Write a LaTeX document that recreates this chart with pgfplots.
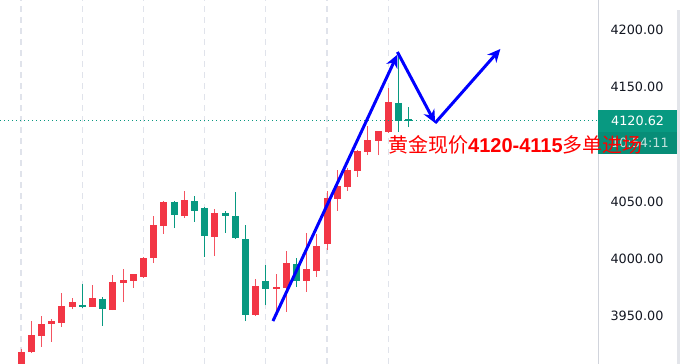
\documentclass[border=0pt]{standalone}
\usepackage{pgfplots}
\pgfplotsset{compat=1.18}
\usetikzlibrary{arrows.meta}
\usepackage{fontspec}
\setmainfont{DejaVu Sans}
\newfontfamily\lib{Liberation Sans}
\newfontfamily\cjk{Noto Sans CJK SC}
\definecolor{tvred}{HTML}{F23645}
\definecolor{tvgreen}{HTML}{089981}
\definecolor{gridc}{HTML}{E0E3EB}
\definecolor{axc}{HTML}{D1D4DC}
\definecolor{txt}{HTML}{131722}
\begin{document}
\begin{tikzpicture}
\begin{axis}[name=main,
  scale only axis, width=598pt, height=364pt,
  xmin=-2.06, xmax=56.57, ymin=3908.04, ymax=4226.22,
  clip mode=individual,
  axis x line*=bottom, x axis line style={draw=none},
  axis y line*=right, y axis line style={draw=axc, line width=1pt},
  xtick={0,6,...,36}, xticklabels={},
  xmajorgrids, grid style={draw=gridc, line width=1.3pt, dash pattern=on 6pt off 5pt},
  ytick={3950,4000,4050,4150,4200},
  major tick length=0pt,
  /pgf/number format/assume math mode=true,
  yticklabel={\pgfmathprintnumber[fixed,fixed zerofill,precision=2,1000 sep={}]{\tick}},
  yticklabel style={font=\fontsize{12.8}{14}\selectfont, text=txt, anchor=west, xshift=9pt},
  unbounded coords=jump,
]
% red wicks
\addplot[tvred!85, line width=1pt] coordinates {
(0,3900) (0,3921.2) (0,nan)
(1,3917.7) (1,3945.6) (1,nan)
(2,3922.9) (2,3950.0) (2,nan)
(3,3927.3) (3,3947.4) (3,nan)
(4,3940.4) (4,3970.1) (4,nan)
(5,3956.1) (5,3965.7) (5,nan)
(7,3957.9) (7,3977.1) (7,nan)
(9,3955.2) (9,3985.8) (9,nan)
(10,3962.2) (10,3991.1) (10,nan)
(11,3974.5) (11,3986.7) (11,nan)
(12,3983.0) (12,4001.5) (12,nan)
(13,3996.3) (13,4037.4) (13,nan)
(14,4021.7) (14,4050.5) (14,nan)
(16,4035.7) (16,4059.3) (16,nan)
(19,4002.4) (19,4043.5) (19,nan)
(23,3950.0) (23,3982.3) (23,nan)
(25,3952.6) (25,3986.7) (25,nan)
(26,3953.5) (26,4006.8) (26,nan)
(28,3971.0) (28,4022.6) (28,nan)
(29,3984.1) (29,4021.7) (29,nan)
(30,4007.7) (30,4059.3) (30,nan)
(31,4041.8) (31,4077.6) (31,nan)
(32,4059.3) (32,4079.4) (32,nan)
(33,4071.5) (33,4095.1) (33,nan)
(34,4090.7) (34,4116.1) (34,nan)
(35,4090.7) (35,4111.7) (35,nan)
(36,4110.0) (36,4149.3) (36,nan)
};
% red bodies
\addplot[tvred, line width=7pt, line cap=butt] coordinates {
(0,3904.5) (0,3918.5) (0,nan)
(1,3918.5) (1,3933.4) (1,nan)
(2,3932.5) (2,3943.0) (2,nan)
(3,3943.0) (3,3945.6) (3,nan)
(4,3943.9) (4,3958.7) (4,nan)
(5,3957.9) (5,3962.2) (5,nan)
(7,3957.9) (7,3965.7) (7,nan)
(9,3955.2) (9,3979.7) (9,nan)
(10,3978.8) (10,3981.5) (10,nan)
(11,3980.6) (11,3986.7) (11,nan)
(12,3984.1) (12,4000.7) (12,nan)
(13,4000.7) (13,4029.5) (13,nan)
(14,4028.7) (14,4049.7) (14,nan)
(16,4037.4) (16,4051.4) (16,nan)
(19,4019.1) (19,4040.0) (19,nan)
(23,3950.9) (23,3976.2) (23,nan)
(25,3973.6) (25,3975.6) (25,nan)
(26,3974.5) (26,3996.3) (26,nan)
(28,3980.6) (28,3991.1) (28,nan)
(29,3989.3) (29,4011.2) (29,nan)
(30,4012.9) (30,4053.1) (30,nan)
(31,4052.3) (31,4063.6) (31,nan)
(32,4062.8) (32,4077.6) (32,nan)
(33,4076.7) (33,4094.2) (33,nan)
(34,4093.4) (34,4103.8) (34,nan)
(35,4103.0) (35,4111.7) (35,nan)
(36,4110.8) (36,4137.1) (36,nan)
};
% green wicks
\addplot[tvgreen, line width=1pt] coordinates {
(6,3957.0) (6,3978.0) (6,nan)
(8,3941.3) (8,3966.6) (8,nan)
(15,4026.9) (15,4050.5) (15,nan)
(17,4032.2) (17,4054.9) (17,nan)
(18,4001.6) (18,4045.0) (18,nan)
(20,4022.6) (20,4041.8) (20,nan)
(21,4017.5) (21,4058.4) (21,nan)
(22,3945.6) (22,4029.5) (22,nan)
(24,3959.6) (24,3994.6) (24,nan)
(27,3975.3) (27,4000.7) (27,nan)
(37,4110.8) (37,4178.1) (37,nan)
(38,4115.2) (38,4132.7) (38,nan)
};
% green bodies
\addplot[tvgreen, line width=7pt, line cap=butt] coordinates {
(6,3959.6) (6,3957.9) (6,nan)
(8,3964.9) (8,3956.1) (8,nan)
(15,4049.7) (15,4038.3) (15,nan)
(17,4050.5) (17,4041.8) (17,nan)
(18,4044.4) (18,4019.9) (18,nan)
(20,4040.0) (20,4037.4) (20,nan)
(21,4037.4) (21,4018.2) (21,nan)
(22,4017.3) (22,3950.9) (22,nan)
(24,3980.6) (24,3973.6) (24,nan)
(27,3995.5) (27,3980.6) (27,nan)
(37,4136.2) (37,4120.5) (37,nan)
(38,4122.0) (38,4120.62) (38,nan)
};
% last price line
\addplot[tvgreen, line width=1pt, dash pattern=on 1pt off 3pt] coordinates {(-2.06,4120.62) (56.57,4120.62)};
% blue arrows
\addplot[blue, line width=3pt, -{Stealth[length=13pt,width=12pt]}] coordinates {(24.7,3945.6) (36.9,4178.5)};
\addplot[blue, line width=3pt, -{Stealth[length=13pt,width=12pt]}] coordinates {(36.9,4180.8) (40.6,4118.7)};
\addplot[blue, line width=3pt, -{Stealth[length=13pt,width=12pt]}] coordinates {(40.6,4118.7) (47.0,4183.4)};
\end{axis}
\begin{scope}[shift={(main.south west)}, x=1pt, y=1pt]
  \fill[tvgreen] (598,{364-110}) rectangle (677,{364-132});
  \fill[tvgreen!92!black] (598,{364-132}) rectangle (677,{364-154});
  \node[text=white, font=\fontsize{12.8}{14}\selectfont, anchor=west, inner sep=0pt] at (611,{364-121}) {4120.62};
  \node[text=white, opacity=0.75, font=\fontsize{12.8}{14}\selectfont, anchor=west, inner sep=0pt] at (611,{364-143}) {10:54:11};
  \fill[axc!60] (677,0) rectangle (680,{364-10});
  \node[text=red, anchor=base west, inner sep=0pt] at (388,{364-153}) {\fontsize{20}{22}\selectfont\cjk 黄金现价{\lib\bfseries 4120-4115}多单进场};
\end{scope}
\pgfresetboundingbox
\path[use as bounding box] (main.south west) rectangle ([shift={(680pt,364pt)}]main.south west);
\end{tikzpicture}
\end{document}
